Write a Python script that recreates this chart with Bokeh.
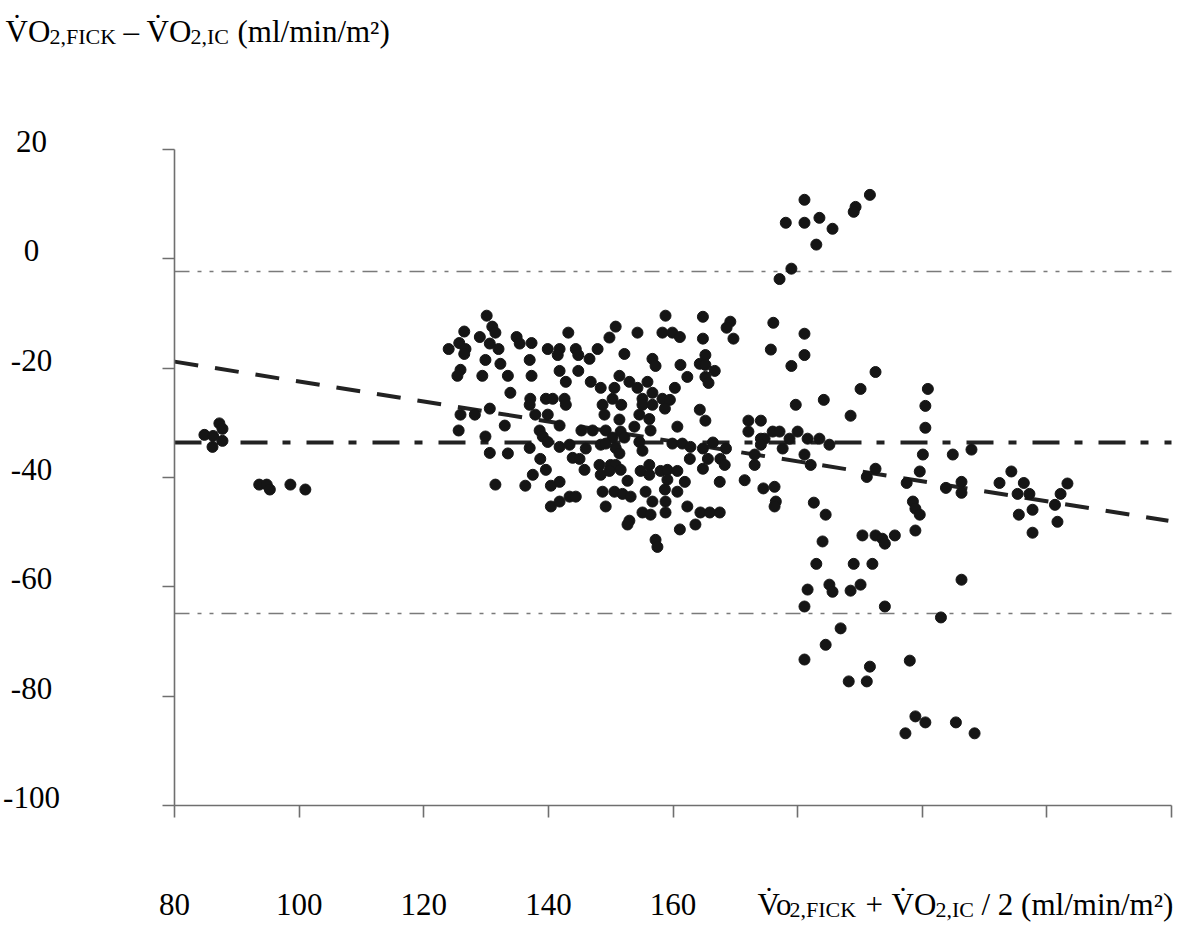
from bokeh.plotting import figure
from bokeh.models import Range1d, FixedTicker, Label
from bokeh.embed import file_html
from bokeh.resources import INLINE

# ---------------- data ----------------
mean_x = [84.8, 86.2, 87.2, 87.7, 87.7, 86.1,
          93.6, 94.8, 95.3, 98.6, 101.0,
          130.1, 131.0, 131.5, 126.5, 125.7, 124.0, 126.7, 126.5, 129.0, 130.6,
          132.0, 134.9, 135.4, 137.3, 129.9, 137.0, 139.9, 141.8, 141.5, 143.2,
          132.3, 125.9, 125.4, 129.4, 133.5, 137.3, 141.8, 142.8, 133.9, 137.1,
          139.6, 140.7, 142.6, 137.0, 142.8, 130.6, 125.9, 128.2, 137.9, 139.9,
          133.0, 141.8, 125.6, 138.6, 129.9, 139.1, 139.9, 141.8, 143.4, 130.6,
          133.5, 137.0, 138.7, 139.6, 137.5, 131.5, 136.3, 140.4, 141.8, 140.4,
          141.8, 143.4,
          158.8, 150.8, 154.3, 158.3, 159.9, 161.1, 149.8, 144.4, 144.8, 146.6,
          147.9, 152.2, 156.7, 157.2, 161.2, 162.3, 144.8, 146.8, 148.4, 151.4,
          150.6, 153.0, 154.3, 155.9, 160.3, 156.7, 150.3, 148.7, 151.7, 155.1,
          155.1, 156.7, 158.3, 159.5, 158.7, 149.0, 154.6, 156.2, 151.4, 153.8,
          156.4, 160.7, 145.3, 147.1, 149.2, 151.6, 150.3, 152.2, 146.0, 148.4,
          149.2, 150.8, 151.4, 155.1, 154.6, 159.9, 161.5, 162.8, 143.9, 145.0,
          162.7, 145.8, 148.2, 148.4, 150.0, 150.8, 149.8, 151.6, 154.8, 156.2,
          156.2, 158.0, 159.1, 160.7, 152.7, 159.1, 161.9, 167.5, 144.4, 148.7,
          150.6, 151.9, 153.2, 155.6, 158.7, 160.7, 156.7, 158.8, 149.2, 155.1,
          156.4, 158.8, 162.3, 164.4, 165.9, 167.5, 153.0, 152.7, 161.1, 163.6,
          157.2, 157.5,
          181.1, 191.6, 189.3, 189.0, 178.1, 181.1, 183.5, 185.6, 183.0, 179.0,
          177.1, 164.8, 169.2, 168.6, 169.7, 164.8, 176.1, 181.1, 175.7, 181.1,
          179.0, 165.2, 164.3, 165.2, 166.7, 165.2, 165.7, 192.5, 190.1, 184.2,
          179.7, 188.5, 164.3, 165.2, 172.1, 174.1, 172.1, 176.0, 177.1, 174.1,
          174.7, 178.7, 180.0, 181.6, 183.5, 185.1, 174.1, 177.6, 173.1, 181.1,
          173.1, 182.1, 192.5, 166.4, 164.8, 168.5, 165.6, 167.6, 168.3, 164.8,
          171.5, 174.5,
          200.9, 200.5, 200.5, 200.1, 204.9, 207.9, 199.6, 191.1, 197.5, 203.8,
          206.3, 206.3, 176.3, 176.5, 176.3, 182.6, 184.5, 198.5, 198.9, 199.6,
          198.9, 184.0, 190.4, 192.5, 193.6, 194.0, 195.6, 183.0, 189.0, 192.0,
          181.6, 185.1, 185.6, 188.5, 190.1, 181.1, 194.0, 206.3, 203.0,
          186.9, 184.5, 181.1, 198.0, 191.6, 188.2, 191.1, 198.9, 200.5, 205.4,
          197.3, 208.4,
          212.4, 214.3, 216.3, 215.3, 217.2, 215.5, 217.7, 217.7, 223.3, 222.2,
          221.3, 221.7]

diff_y = [-32.2, -32.4, -30.1, -31.1, -33.3, -34.4,
          -41.3, -41.3, -42.2, -41.3, -42.2,
          -10.4, -12.4, -13.5, -13.3, -15.4, -16.5, -16.5, -17.4, -14.3, -15.5,
          -16.5, -14.3, -15.5, -15.4, -18.5, -18.5, -16.5, -16.5, -17.6, -13.5,
          -19.2, -20.3, -21.4, -21.4, -21.4, -21.4, -20.5, -22.5, -24.5, -25.6,
          -25.6, -25.6, -25.6, -26.7, -26.7, -27.4, -28.5, -28.5, -28.5, -28.5,
          -30.5, -30.5, -31.4, -31.4, -32.5, -32.5, -33.5, -34.4, -34.0, -35.5,
          -35.6, -34.6, -36.6, -38.6, -39.5, -41.3, -41.5, -41.5, -40.8, -45.3,
          -44.4, -43.5,
          -10.4, -12.4, -13.5, -13.5, -13.5, -14.3, -14.4, -16.5, -17.6, -18.3,
          -16.5, -17.4, -18.3, -19.6, -19.4, -21.6, -20.5, -22.5, -23.6, -21.4,
          -23.6, -22.5, -23.6, -22.5, -23.6, -24.5, -25.6, -26.7, -26.7, -25.6,
          -26.7, -26.7, -25.6, -25.8, -27.4, -28.5, -28.5, -29.3, -29.4, -30.7,
          -31.4, -30.7, -31.4, -31.4, -31.4, -31.6, -32.7, -32.7, -34.7, -34.0,
          -33.8, -34.6, -35.6, -35.1, -33.5, -33.8, -33.8, -34.4, -36.4, -36.6,
          -36.6, -38.6, -37.7, -39.5, -37.7, -37.7, -38.8, -38.6, -38.8, -37.7,
          -39.5, -38.8, -38.6, -38.8, -40.6, -40.4, -40.8, -40.8, -43.5, -42.6,
          -42.6, -43.0, -43.5, -42.6, -42.2, -42.6, -44.4, -44.4, -45.3, -46.4,
          -46.8, -46.4, -45.3, -46.4, -46.4, -46.4, -47.9, -48.6, -49.5, -48.6,
          -51.4, -52.7,
          10.8, 11.7, 9.5, 8.6, 6.6, 6.6, 7.5, 5.5, 2.6, -1.8,
          -3.7, -10.6, -11.5, -12.6, -14.6, -14.6, -11.7, -13.7, -16.6, -17.6,
          -19.6, -17.6, -19.2, -19.4, -20.5, -21.6, -22.7, -20.7, -23.8, -25.8,
          -26.7, -28.7, -27.6, -29.6, -29.6, -29.6, -31.6, -31.6, -31.6, -32.9,
          -32.9, -32.9, -31.6, -32.9, -32.9, -34.0, -34.0, -34.7, -35.8, -35.8,
          -37.7, -37.7, -38.4, -33.6, -34.7, -34.7, -36.6, -36.6, -37.7, -38.4,
          -40.5, -42.0,
          -23.8, -26.9, -30.9, -35.8, -35.8, -34.9, -38.9, -39.9, -41.0, -41.9,
          -40.8, -42.8, -41.7, -44.4, -45.3, -44.6, -46.8, -44.4, -45.7, -46.8,
          -49.7, -51.7, -50.6, -50.6, -51.2, -52.1, -50.6, -55.8, -55.8, -55.8,
          -60.5, -59.6, -60.9, -60.7, -59.6, -63.6, -63.6, -58.7, -65.6,
          -67.6, -70.6, -73.3, -73.5, -74.6, -77.3, -77.3, -83.7, -84.8, -84.8,
          -86.8, -86.8,
          -41.0, -38.9, -41.0, -43.0, -43.0, -46.8, -45.9, -50.1, -41.1, -43.0,
          -45.0, -48.1]

mean_difference = -33.6
upper_limit = -2.3
lower_limit = -64.9
reg_intercept = -4.2
reg_slope = -0.1825

line_x = [80, 240]
reg_x = [80, 239.5]

x_min, x_max = 80, 240
y_min, y_max = -100, 20
x_tick_values = [80, 100, 120, 140, 160, 180, 200, 220, 240]
x_tick_labels = ["80", "100", "120", "140", "160", "", "", "", ""]
y_tick_values = [20, 0, -20, -40, -60, -80, -100]
y_tick_labels = ["20", "0", "-20", "-40", "-60", "-80", "-100"]

# ---------------- layout ----------------
W, H = 1180, 926
# where the axis box sits on the canvas (pixels): left, right, top, bottom
BOX_L, BOX_R, BOX_T, BOX_B = 174, 1171, 149, 805
kx = (x_max - x_min) / (BOX_R - BOX_L)
ky = (y_max - y_min) / (BOX_B - BOX_T)
xr = Range1d(x_min - BOX_L * kx, x_max + (W - BOX_R) * kx)
yr = Range1d(y_min - (H - BOX_B) * ky, y_max + BOX_T * ky)

FONT = "Liberation Serif"
p = figure(width=W, height=H, x_range=xr, y_range=yr,
           output_backend="svg", toolbar_location=None,
           min_border=0, min_border_left=0, min_border_right=0,
           min_border_top=0, min_border_bottom=0)
p.outline_line_color = None
p.grid.visible = False
p.background_fill_color = "white"
p.border_fill_color = "white"

axis_color = "#6f6f6f"
for ax in (p.xaxis[0], p.yaxis[0]):
    ax.axis_line_color = axis_color
    ax.axis_line_width = 1.6
    ax.major_tick_line_color = axis_color
    ax.major_tick_line_width = 1.6
    ax.major_tick_out = 12
    ax.major_tick_in = 0
    ax.minor_tick_line_color = None

p.xaxis.fixed_location = y_min
p.xaxis.bounds = (x_min, x_max)
p.xaxis.ticker = FixedTicker(ticks=x_tick_values)
p.xaxis.major_label_overrides = {v: "" for v in x_tick_values}
p.xaxis.major_label_standoff = 0

p.yaxis.fixed_location = x_min
p.yaxis.bounds = (y_min, y_max)
p.yaxis.ticker = FixedTicker(ticks=y_tick_values)
p.yaxis.major_label_overrides = {v: "" for v in y_tick_values}
p.yaxis.major_label_standoff = 0

# reference lines
p.line(line_x, [upper_limit, upper_limit], line_color="#7a7a7a", line_width=1.5,
       line_dash="15 8 4 8 4 8")
p.line(line_x, [lower_limit, lower_limit], line_color="#7a7a7a", line_width=1.5,
       line_dash="15 8 4 8 4 8")
p.line(line_x, [mean_difference, mean_difference], line_color="#222222", line_width=4,
       line_dash="27 15 8 16")
p.line(reg_x, [reg_intercept + reg_slope * v for v in reg_x], line_color="#222222",
       line_width=4, line_dash="24 17")

# points
p.scatter(mean_x, diff_y, size=11, fill_color="#151515", line_color="#151515")

# the frame covers the whole canvas: screen units are canvas pixels (y upward)
def sx(page_x):
    return page_x - 8

def sy(page_y):
    return H - (page_y - 8)

# y tick labels
for v, t in zip(y_tick_values, y_tick_labels):
    p.add_layout(Label(x=sx(39), x_units="screen", y=v, y_units="data", y_offset=8,
                       text=t, text_font=FONT, text_font_size="31px",
                       text_align="center", text_baseline="middle",
                       text_color="black"))

BASE_X = 912   # baseline (page px) of the bottom text row
# x tick labels, same row as the x-axis title
for v, t in zip(x_tick_values, x_tick_labels):
    if t:
        p.add_layout(Label(x=v, x_units="data", y=sy(BASE_X), y_units="screen",
                           text=t, text_font=FONT, text_font_size="31px",
                           text_align="center", text_baseline="alphabetic",
                           text_color="black"))

def add_text(px, base_page_y, txt, size):
    p.add_layout(Label(x=sx(px), x_units="screen", y=sy(base_page_y),
                       y_units="screen", text=txt, text_font=FONT,
                       text_font_size=size, text_align="left",
                       text_baseline="alphabetic", text_color="black"))

# y-axis title (top)
add_text(13, 39, "V\u0307O", "31px")
add_text(57, 44, "2,FICK", "22px")
add_text(131, 39, "\u2013", "31px")
add_text(154, 39, "V\u0307O", "31px")
add_text(198, 44, "2,IC", "22px")
add_text(245, 39, "(ml/min/m\u00b2)", "31px")

# x-axis title (bottom right)
add_text(765, BASE_X, "V\u0307o", "31px")
add_text(797, BASE_X + 5, "2,FICK", "22px")
add_text(873, BASE_X, "+", "31px")
add_text(899, BASE_X, "V\u0307O", "31px")
add_text(943, BASE_X + 5, "2,IC", "22px")
add_text(989, BASE_X, "/ 2 (ml/min/m\u00b2)", "31px")

open("out.html", "w").write(file_html(p, INLINE))
